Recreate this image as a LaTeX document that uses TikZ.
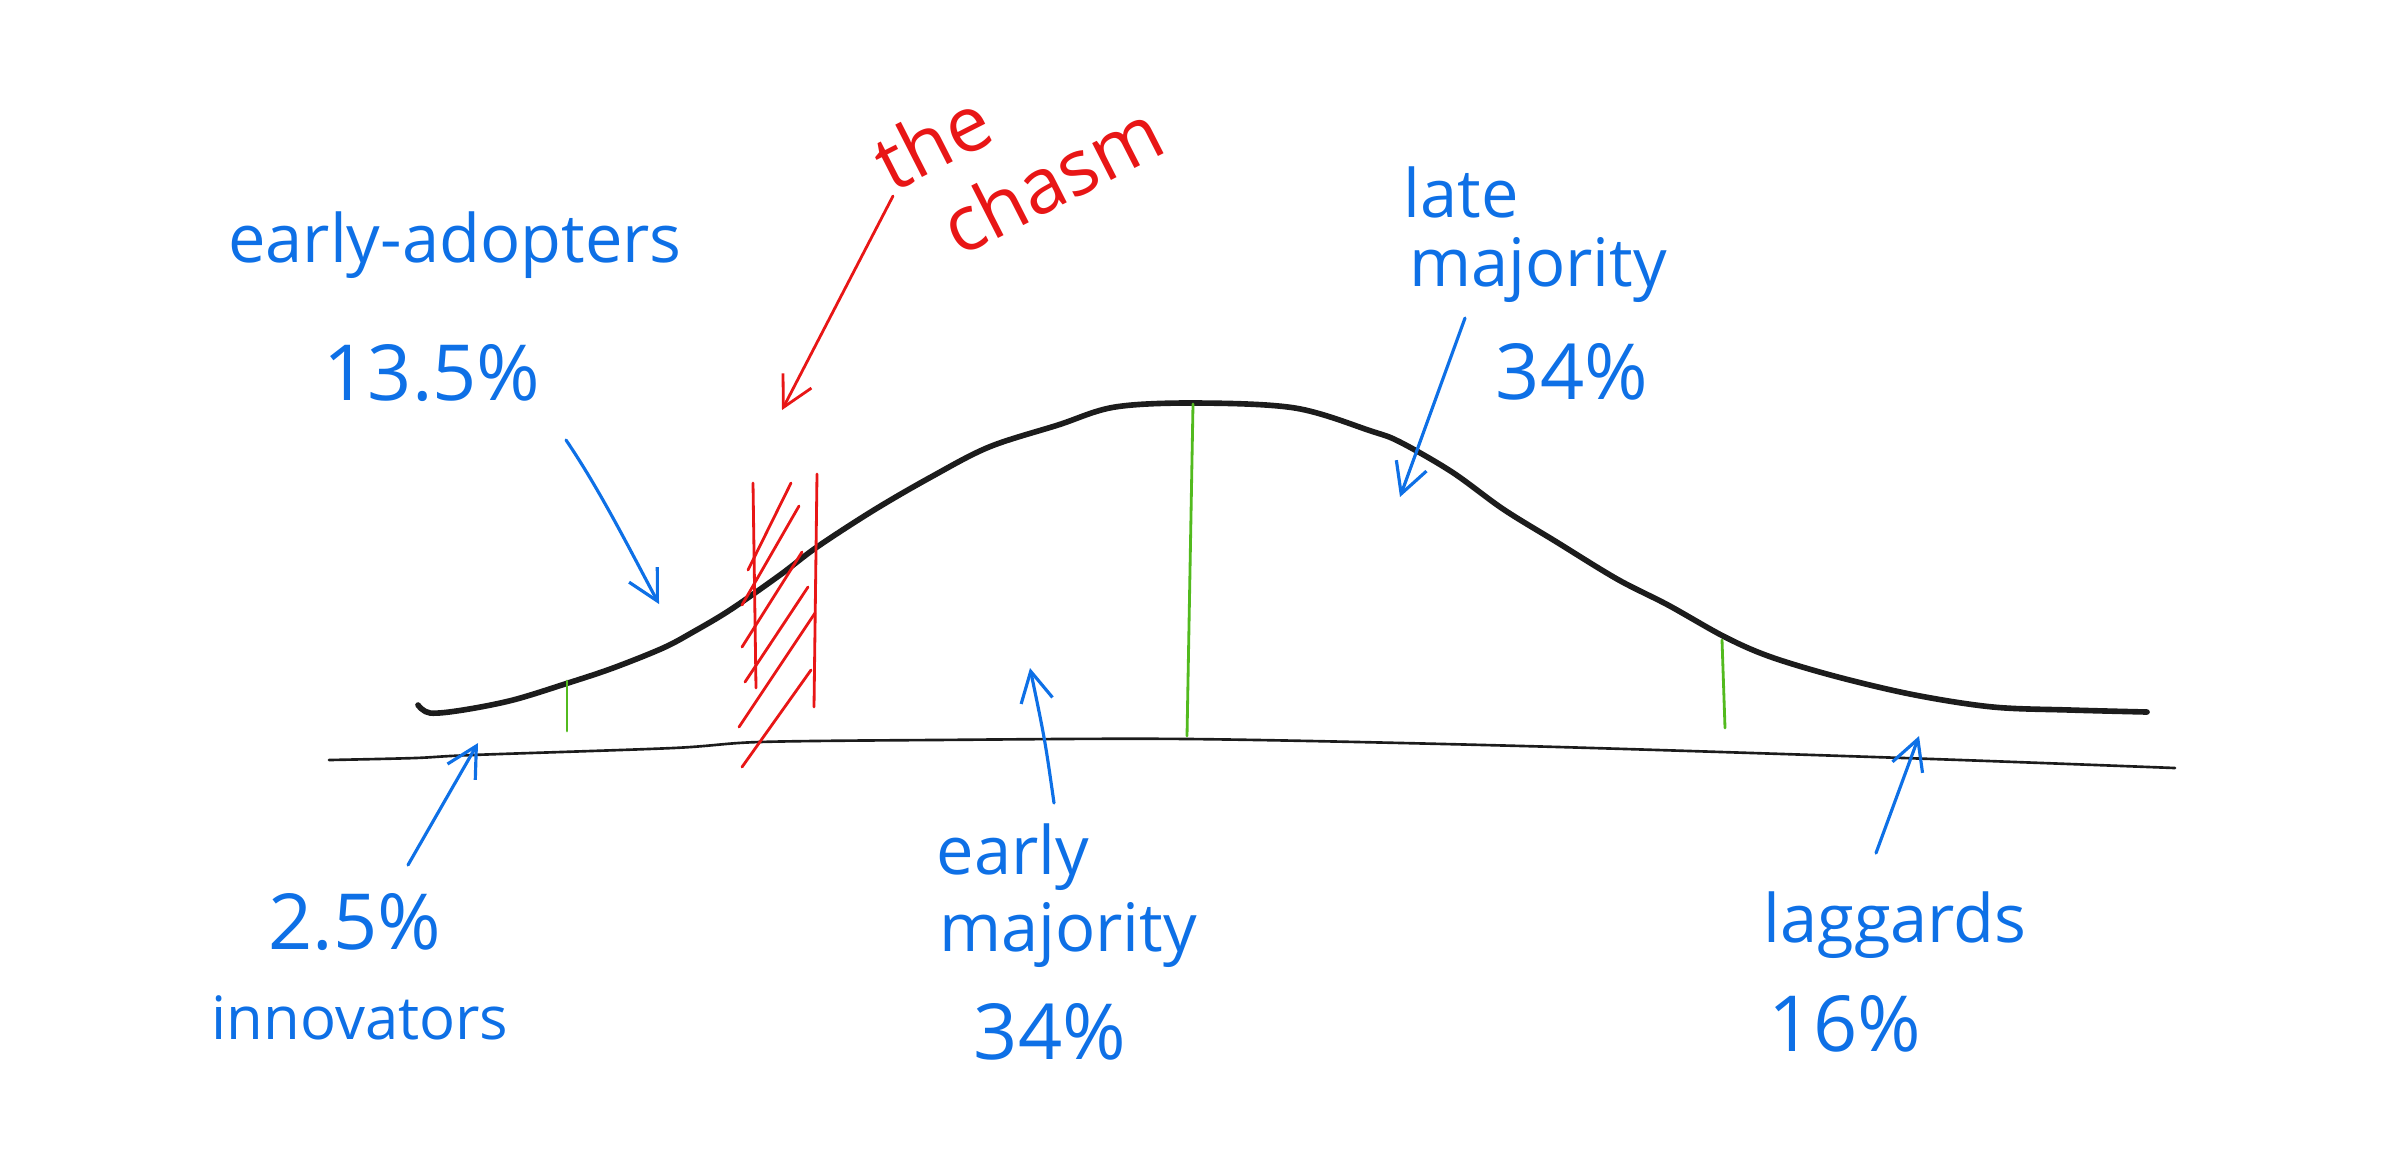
\documentclass[tikz,border=0pt]{standalone}
\usepackage{fontspec}
\setmainfont{Open Sans}
\usetikzlibrary{arrows.meta}
\definecolor{penblue}{RGB}{14,112,230}
\definecolor{penred}{RGB}{232,22,22}
\definecolor{pengreen}{RGB}{82,186,30}
\definecolor{penink}{RGB}{28,28,28}
\tikzset{
  bellcurve/.style={line width=1.6pt,draw=penink,line cap=round,line join=round},
  axisline/.style={line width=.75pt,draw=penink,line cap=round},
  divider/.style={line width=.8pt,draw=pengreen,line cap=round},
  chasmline/.style={line width=.8pt,draw=penred,line cap=round},
  bluetxt/.style={text=penblue,font=\fontsize{19}{21}\selectfont,inner sep=0pt},
  bluepct/.style={bluetxt,font=\fontsize{22}{24}\selectfont},
  redtxt/.style={text=penred,font=\fontsize{22}{25}\selectfont,inner sep=0pt},
  bluearr/.style={-{Straight Barb[length=3mm,width=3.2mm]},line width=.9pt,draw=penblue,line cap=round},
  redarr/.style={-{Straight Barb[length=3mm,width=3.2mm]},line width=.8pt,draw=penred,line cap=round}
}

\begin{document}
\begin{tikzpicture}[x=0.01cm,y=-0.01cm]
  \useasboundingbox (0,0) rectangle (2388,1159);

  % axis and bell curve
  \draw[axisline] plot[smooth,tension=.5] coordinates {(329,760) (415,758) (472,755) (673,748) (759,742) (931,740) (1190,739) (1523,746) (1904,758) (2175,768)};
  \draw[bellcurve] plot[smooth,tension=.55] coordinates {(418,705) (430,713) (463,710) (513,700) (568,683) (613,668) (663,648) (693,632) (730,610) (780,575) (817,547) (874,510) (931,477) (989,447) (1058,425) (1115,407) (1196,403) (1295,408) (1371,431) (1400,442) (1452,472) (1503,509) (1555,541) (1617,579) (1668,605) (1725,637) (1771,657) (1838,677) (1915,695) (1993,707) (2070,710) (2147,712)};

  % dividers
  \draw[divider] (567,681) -- (567,731);
  \draw[divider] (1193,404) -- (1187,736);
  \draw[divider] (1722,640) -- (1725,728);

  % the chasm
  \draw[chasmline] (753,483) -- (756,688);
  \draw[chasmline] (817,474) -- (814,707);
  \foreach \xa/\ya/\xb/\yb in {748/570/791/483, 742/605/799/506, 742/647/802/552, 745/682/808/587, 739/727/815/613, 742/767/811/670}
    \draw[chasmline] (\xa,\ya) -- (\xb,\yb);

  % labels
  \node[redtxt,rotate=27,align=left] (chasm) at (1018,146) {the\\\hspace*{.3cm}chasm};
  \node[bluetxt] (adopt) at (455,245) {early-adopters};
  \node[bluepct] (adoptpct) at (432,373) {13.5\%};
  \node[bluetxt] (late) at (1461,192) {late};
  \node[bluetxt] (latemaj) at (1538,270) {majority};
  \node[bluepct] (latepct) at (1572,372) {34\%};
  \node[bluetxt] (early) at (1013,857) {early};
  \node[bluetxt] (earlymaj) at (1068,935) {majority};
  \node[bluepct] (earlypct) at (1050,1032) {34\%};
  \node[bluepct] (innovpct) at (355,922) {2.5\%};
  \node[bluetxt,font=\fontsize{17}{19}\selectfont] (innov) at (360,1018) {innovators};
  \node[bluetxt] (lag) at (1895,925) {laggards};
  \node[bluepct] (lagpct) at (1845,1024) {16\%};

  % pointers
  \coordinate (chasmtail) at (893,196);
  \coordinate (chasmhead) at (782,410);
  \coordinate (adopttail) at (566,440);
  \coordinate (adopthead) at (659,604);
  \coordinate (latetail) at (1465,318);
  \coordinate (latehead) at (1400,497);
  \coordinate (earlytail) at (1054,803);
  \coordinate (earlyhead) at (1030,668);
  \coordinate (innovtail) at (408,865);
  \coordinate (innovhead) at (478,743);
  \coordinate (lagtail) at (1876,853);
  \coordinate (laghead) at (1919,736);

  \draw[redarr] (chasmtail) -- (chasmhead);
  \draw[bluearr] (adopttail) .. controls (600,490) and (630,550) .. (adopthead);
  \draw[bluearr] (latetail) -- (latehead);
  \draw[bluearr] (earlytail) .. controls (1045,740) .. (earlyhead);
  \draw[bluearr] (innovtail) -- (innovhead);
  \draw[bluearr] (lagtail) -- (laghead);
\end{tikzpicture}
\end{document}
